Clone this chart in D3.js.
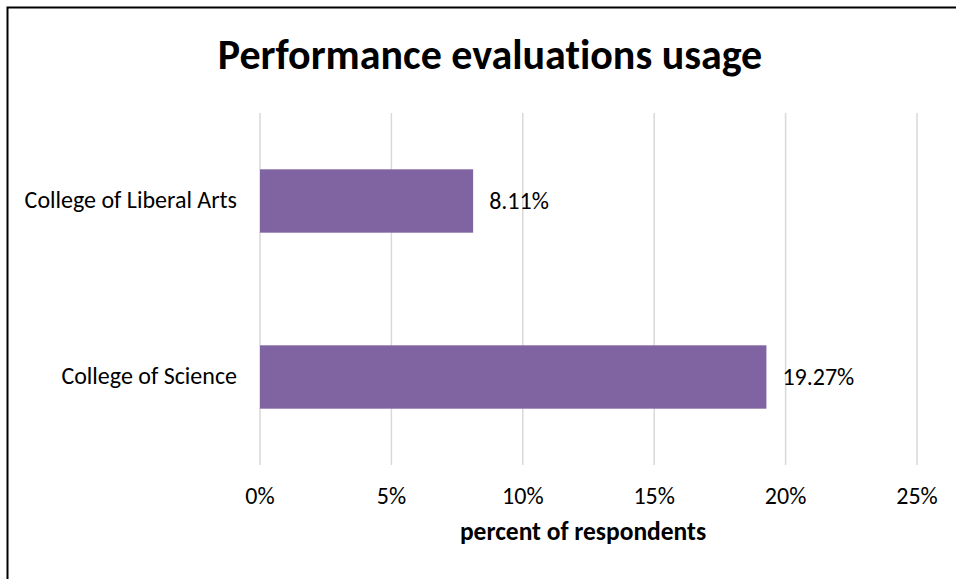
<!DOCTYPE html>
<html>
<head>
<meta charset="utf-8">
<script src="https://cdn.jsdelivr.net/npm/d3@7/dist/d3.min.js"></script>
<style>
  html, body { margin: 0; padding: 0; background: #fff; }
  svg { display: block; }
  text { font-family: Carlito, "Open Sans", sans-serif; fill: #000; font-variant-ligatures: none; font-feature-settings: "liga" 0, "clig" 0; }
</style>
</head>
<body>
<script>
// Chart data
const categories = ["College of Liberal Arts", "College of Science"];
const values = [8.11, 19.27];
const tickValues = [0, 5, 10, 15, 20, 25];
const titleText = "Performance evaluations usage";
const axisTitleText = "percent of respondents";

const W = 956, H = 579;
const plot = { left: 260, right: 917, top: 113, bottom: 465 };

const svg = d3.select("body").append("svg").attr("width", W).attr("height", H);

// frame (top and left edges visible)
svg.append("path")
  .attr("d", `M7.5,${H + 5} V7.5 H${W + 5}`)
  .attr("fill", "none").attr("stroke", "#000").attr("stroke-width", 2);

const x = d3.scaleLinear().domain([0, 25]).range([plot.left, plot.right]);
const y = d3.scaleBand().domain(categories).range([plot.top, plot.bottom]).paddingInner(0.64).paddingOuter(0.32);

// vertical gridlines
svg.append("g").selectAll("line").data(tickValues).join("line")
  .attr("x1", d => x(d)).attr("x2", d => x(d))
  .attr("y1", plot.top).attr("y2", plot.bottom)
  .attr("stroke", "#d9d9d9").attr("stroke-width", 1.5);

// bars
svg.append("g").selectAll("rect").data(values).join("rect")
  .attr("x", x(0))
  .attr("y", (d, i) => y(categories[i]))
  .attr("width", d => x(d) - x(0))
  .attr("height", y.bandwidth())
  .attr("fill", "#8064a2");

// value labels
svg.append("g").selectAll("text").data(values).join("text")
  .attr("x", d => x(d) + 16)
  .attr("y", (d, i) => y(categories[i]) + y.bandwidth() / 2)
  .attr("dy", "0.35em")
  .attr("font-size", 24)
  .text(d => d.toFixed(2) + "%");

// category labels
svg.append("g").selectAll("text").data(categories).join("text")
  .attr("x", 237)
  .attr("y", d => y(d) + y.bandwidth() / 2)
  .attr("dy", "0.3em")
  .attr("text-anchor", "end")
  .attr("font-size", 24)
  .text(d => d);

// x tick labels
svg.append("g").selectAll("text").data(tickValues).join("text")
  .attr("x", d => x(d))
  .attr("y", 504)
  .attr("text-anchor", "middle")
  .attr("font-size", 24)
  .text(d => d + "%");

// axis title
svg.append("text")
  .attr("x", 583).attr("y", 540)
  .attr("text-anchor", "middle")
  .attr("font-size", 25.5).attr("font-weight", "bold")
  .text(axisTitleText);

// chart title
svg.append("text")
  .attr("x", 490).attr("y", 69)
  .attr("text-anchor", "middle")
  .attr("font-size", 42).attr("font-weight", "bold")
  .text(titleText);
</script>
</body>
</html>
